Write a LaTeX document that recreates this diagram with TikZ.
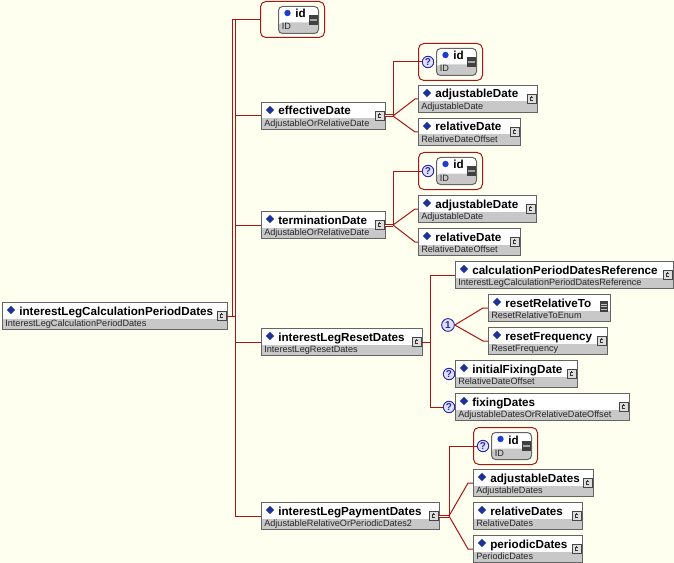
\documentclass[tikz,border=0pt]{standalone}
\usepackage{fontspec}
\setmainfont{Liberation Sans}
\usetikzlibrary{shapes.geometric}
\definecolor{bgc}{RGB}{255,255,240}
\definecolor{lnc}{RGB}{170,20,20}
\definecolor{bdc}{RGB}{100,100,100}
\definecolor{tyc}{RGB}{200,200,200}
\definecolor{dmc}{RGB}{28,50,150}
\definecolor{qc}{RGB}{40,40,170}
\definecolor{barc}{RGB}{64,64,64}
\definecolor{dotc}{RGB}{30,60,200}
\tikzset{
  ebox/.style={rectangle, draw=bdc, fill=white, line width=0.75pt, inner sep=0pt,
    minimum height=20.25pt,
    path picture={\fill[tyc] ([yshift=8.25pt]path picture bounding box.south west) rectangle (path picture bounding box.south east);}},
  ibox/.style={rectangle, rounded corners=3pt, draw=bdc, fill=white, line width=0.75pt, inner sep=0pt,
    minimum width=30pt, minimum height=20.25pt,
    path picture={\fill[tyc] ([yshift=8.25pt]path picture bounding box.south west) rectangle (path picture bounding box.south east);}},
  redbox/.style={rectangle, rounded corners=4pt, draw=lnc, fill=bgc, line width=0.75pt, inner sep=0pt,
    minimum width=48pt, minimum height=27.75pt},
  nametext/.style={font=\fontsize{8.75}{10}\selectfont\bfseries, inner sep=0pt, text=black},
  typetext/.style={font=\fontsize{6.85}{8}\selectfont, inner sep=0pt, text=black!85},
  diam/.style={diamond, aspect=1, fill=dmc, inner sep=0pt, minimum width=6.4pt, minimum height=6.4pt},
  bdot/.style={circle, fill=dotc, inner sep=0pt, minimum size=4.8pt},
  cicon/.style={rectangle, draw=bdc!70!black, fill=tyc!60!white, line width=0.5pt, inner sep=0pt,
    minimum width=6.5pt, minimum height=6.8pt,
    path picture={\draw[line width=0.45pt, black!80]
      ([shift={(1.3pt,1.3pt)}]path picture bounding box.center) -- ++(-2.4pt,0pt) -- ++(0pt,-2.6pt) -- ++(2.4pt,0pt)
      ([shift={(0pt,1.3pt)}]path picture bounding box.center) -- ++(0pt,1.2pt);}},
  eicon/.style={rectangle, fill=barc, inner sep=0pt, minimum width=6pt, minimum height=8.25pt,
    path picture={\draw[line width=0.5pt, white!75!black]
      ([shift={(-2pt,2pt)}]path picture bounding box.center) -- ++(4pt,0pt)
      ([shift={(-2pt,0pt)}]path picture bounding box.center) -- ++(4pt,0pt)
      ([shift={(-2pt,-2pt)}]path picture bounding box.center) -- ++(4pt,0pt);}},
  barx/.style={rectangle, fill=barc, inner sep=0pt, minimum width=6.75pt, minimum height=7.5pt,
    path picture={\draw[line width=0.9pt, white!65!black]
      ([xshift=0.6pt]path picture bounding box.west) -- ([xshift=-0.6pt]path picture bounding box.east);}},
  qcirc/.style={circle, draw=qc, fill=white!88!blue, line width=0.7pt, inner sep=0pt, minimum size=8.6pt,
    text=qc, font=\fontsize{7.5}{8}\selectfont\bfseries},
  conn/.style={draw=lnc, line width=0.75pt},
  dconn/.style={draw=lnc, line width=0.75pt, double=bgc, double distance=0.75pt},
}
\newcommand\xelem[7]{%
  \node[ebox, minimum width={#4*0.75pt}, anchor=north west] (#1) at (#2,#3) {};
  \node[diam] (#1-d) at ({#2+9},{#3+8}) {};
  \node[nametext, anchor=base west] (#1-n) at ({#2+17},{#3+13}) {#5};
  \node[typetext, anchor=base west] (#1-t) at ({#2+3},{#3+24.5}) {#6};
  \coordinate (#1-in) at (#2,{#3+14});
  \coordinate (#1-out) at ({#2+#4},{#3+14});
  \ifx c#7\node[cicon] (#1-i) at ({#2+#4-5.5},{#3+14}) {};\else\node[eicon] (#1-i) at ({#2+#4-6},{#3+12.5}) {};\fi
}
\newcommand\xidbox[4]{%
  \node[redbox, minimum height={#4*0.75pt}, anchor=north west] (#1) at (#2,#3) {};
  \node[ibox, anchor=north west] (#1-b) at ({#2+18},{#3+5}) {};
  \node[bdot] (#1-d) at ({#2+27.5},{#3+12}) {};
  \node[nametext, anchor=base west] (#1-n) at ({#2+35},{#3+17}) {id};
  \node[typetext, anchor=base west] (#1-t) at ({#2+21.5},{#3+29}) {ID};
  \node[barx] (#1-x) at ({#2+53.5},{#3+19}) {};
}
\begin{document}
\begin{tikzpicture}[x=0.75pt,y=-0.75pt]
\fill[bgc] (0,0) rectangle (674,563);
\useasboundingbox (0,0) rectangle (674,563);

% elements
\xelem{root}{2}{302}{225}{interestLegCalculationPeriodDates}{InterestLegCalculationPeriodDates}{c}
\xidbox{idA}{260}{1}{36}
\xelem{eff}{261}{102}{124}{effectiveDate}{AdjustableOrRelativeDate}{c}
\xelem{term}{261}{211}{124}{terminationDate}{AdjustableOrRelativeDate}{c}
\xelem{reset}{261}{328}{161}{interestLegResetDates}{InterestLegResetDates}{c}
\xelem{pay}{261}{502}{178}{interestLegPaymentDates}{AdjustableRelativeOrPeriodicDates2}{c}

\xidbox{idB}{418}{43}{37}
\node[qcirc] (qB) at (428,62) {?};
\xelem{adj1}{418}{85}{119}{adjustableDate}{AdjustableDate}{c}
\xelem{rel1}{418}{118}{102}{relativeDate}{RelativeDateOffset}{c}

\xidbox{idC}{418}{152}{37}
\node[qcirc] (qC) at (428,171) {?};
\xelem{adj2}{418}{195}{118}{adjustableDate}{AdjustableDate}{c}
\xelem{rel2}{418}{228}{102}{relativeDate}{RelativeDateOffset}{c}

\xelem{cref}{455}{261}{218}{calculationPeriodDatesReference}{InterestLegCalculationPeriodDatesReference}{c}
\node[qcirc, minimum size=9.5pt] (one) at (448,325) {1};
\xelem{rrt}{488}{294}{122}{resetRelativeTo}{ResetRelativeToEnum}{e}
\xelem{rfq}{488}{327}{119}{resetFrequency}{ResetFrequency}{c}
\node[qcirc] (qifd) at (449,374) {?};
\xelem{ifd}{455}{360}{122}{initialFixingDate}{RelativeDateOffset}{c}
\node[qcirc] (qfix) at (449,407) {?};
\xelem{fix}{455}{393}{174}{fixingDates}{AdjustableDatesOrRelativeDateOffset}{c}

\xidbox{idD}{473}{427}{37}
\node[qcirc] (qD) at (483,446) {?};
\xelem{adjD}{473}{469}{120}{adjustableDates}{AdjustableDates}{c}
\xelem{relD}{473}{502}{109}{relativeDates}{RelativeDates}{c}
\xelem{perD}{473}{535}{109}{periodicDates}{PeriodicDates}{c}

% connectors: root
\coordinate (trk) at (235,316);
\coordinate (trk2) at (232,316);
\draw[conn] (root-out) -- (trk);
\draw[conn] (trk2) |- (idA.west);
\draw[conn] (trk) |- (idA.west);
\draw[conn] (trk) |- (eff-in);
\draw[conn] (trk) |- (term-in);
\draw[conn] (trk) |- (reset-in);
\draw[conn] (trk) |- (pay-in);

% effectiveDate
\coordinate (f1) at (393,116);
\draw[dconn] (eff-out) -- (f1);
\draw[conn] (f1) |- (qB.west);
\draw[conn] (f1) -- ([xshift=-2.25pt]adj1-in) -- (adj1-in);
\draw[conn] (f1) -- ([xshift=-2.25pt]rel1-in) -- (rel1-in);

% terminationDate
\coordinate (f2) at (393,225);
\draw[dconn] (term-out) -- (f2);
\draw[conn] (f2) |- (qC.west);
\draw[conn] (f2) -- ([xshift=-2.25pt]adj2-in) -- (adj2-in);
\draw[conn] (f2) -- ([xshift=-2.25pt]rel2-in) -- (rel2-in);

% interestLegResetDates
\coordinate (f3) at (430,342);
\draw[conn] (reset-out) -- (f3);
\draw[conn] (f3) |- (cref-in);
\draw[conn] (f3) |- (qfix.west);
\draw[conn] (one.east) -- ([xshift=-3.75pt]rrt-in) -- (rrt-in);
\draw[conn] (one.east) -- ([xshift=-3.75pt]rfq-in) -- (rfq-in);

% interestLegPaymentDates
\coordinate (f4) at (449,516);
\draw[dconn] (pay-out) -- (f4);
\draw[conn] (f4) |- (qD.west);
\draw[conn] (f4) -- ([xshift=-3.75pt]adjD-in) -- (adjD-in);
\draw[conn] (f4) -- ([xshift=-3.75pt]perD-in) -- (perD-in);
\end{tikzpicture}
\end{document}
